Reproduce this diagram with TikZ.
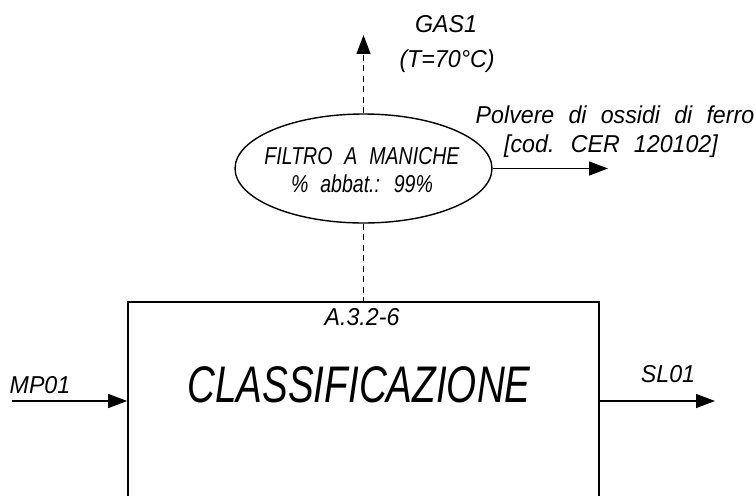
\documentclass[tikz,border=0pt]{standalone}
\usepackage{fontspec}
\setmainfont{Liberation Sans}
\newfontfamily\cadfont[FakeStretch=0.95,WordSpace=2.2]{Liberation Sans}
\newfontfamily\cadnarrow[FakeStretch=0.8,WordSpace=2.2]{Liberation Sans}
\newfontfamily\titlefont[FakeStretch=0.75]{Liberation Sans}
\usetikzlibrary{shapes.geometric,arrows.meta,positioning}
\begin{document}
\begin{tikzpicture}[x=0.02cm, y=0.02cm,
        procbox/.style={rectangle, draw, line width=1pt, minimum width=9.42cm, minimum height=4.86cm, inner sep=0pt},
        filter/.style={ellipse, draw, line width=0.8pt, minimum width=5.14cm, minimum height=2.18cm, inner sep=0pt},
        filtertxt/.style={align=center, inner sep=0pt, font=\cadnarrow\itshape\fontsize{13.9}{15.9}\selectfont},
        lbl/.style={anchor=base, inner sep=0pt, font=\cadfont\itshape\fontsize{13.9}{16}\selectfont},
        title/.style={anchor=base, inner sep=0pt, font=\titlefont\itshape\fontsize{29.3}{32}\selectfont},
        flow/.style={-{Triangle[length=0.38cm, width=0.28cm]}, line width=0.8pt},
        gasline/.style={dash pattern=on 0.12cm off 0.09cm, line width=0.8pt}
        ]
      \useasboundingbox (0,0) rectangle (756,495);
      \clip (0,0) rectangle (756,495);
      \node[procbox] (classif) at (363.5,71.5) {};
      \node[title] (classiftxt) at (359,93) {CLASSIFICAZIONE};
      \node[lbl] (code) at (362,170) {A.3.2-6};
      \node[filter] (filter) at (363.5,326.5) {};
      \node[filtertxt] (filterlbl) at (362,325) {FILTRO A MANICHE\\\% abbat.: 99\%};

      % gas and dust out of the filter
      \coordinate (gasend) at (363.5,460);
      \draw[gasline, flow] (filter.north) -- (gasend);
      \draw[gasline] (filter.south) -- (classif.north);
      \coordinate (dustend) at (608,326.5);
      \draw[flow] (filter.east) -- (dustend);
      \node[lbl] (gas1) at (446,463) {GAS1};
      \node[lbl] (gastemp) at (447,428) {(T=70°C)};
      \node[lbl] (dust) at (615,372) {Polvere di ossidi di ferro};
      \node[lbl] (dustcode) at (611,343) {[cod. CER 120102]};

      % material in and out
      \coordinate (mpstart) at (12,94);
      \draw[flow] (mpstart) -- (mpstart -| classif.west);
      \coordinate (slend) at (715,94);
      \draw[flow] (classif.east |- slend) -- (slend);
      \node[lbl] (mp01) at (40,102) {MP01};
      \node[lbl] (sl01) at (668,113) {SL01};
    \end{tikzpicture}
\end{document}
